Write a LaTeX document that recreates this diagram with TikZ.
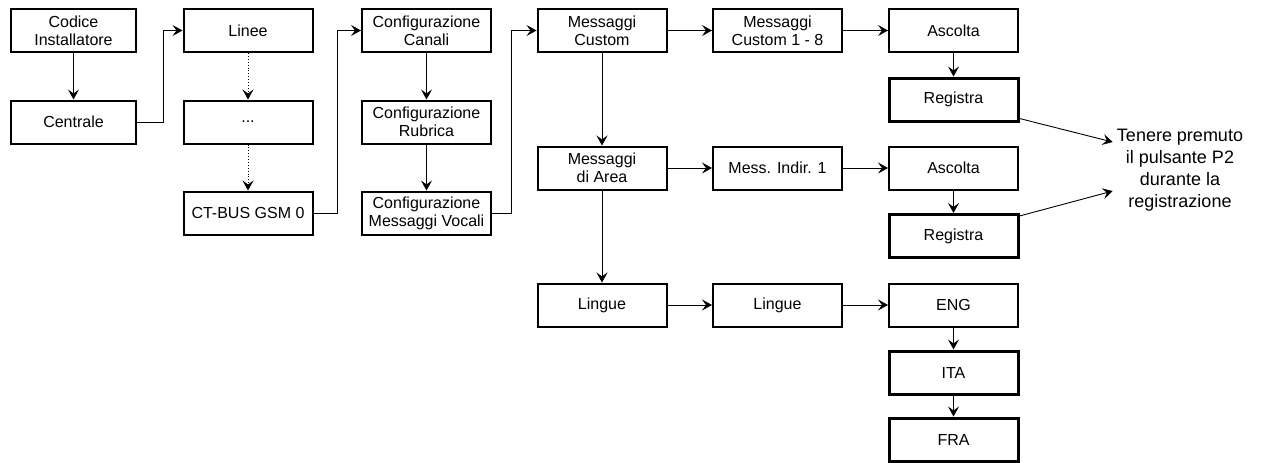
\documentclass[tikz,border=0pt]{standalone}
\usepackage{fontspec}
\setmainfont{Liberation Sans}
\usetikzlibrary{arrows.meta}
\def\boxwd{129pt}

\begin{document}
\begin{tikzpicture}[x=1pt,y=-1pt,line width=0.9pt,>={Stealth[length=10pt,width=11pt,inset=4pt]}]
    \tikzstyle{menu}=[draw,line width=2pt,minimum width=\boxwd,minimum height=43pt,inner sep=0pt,align=center,font=\fontsize{16}{18}\selectfont]
    \tikzstyle{menu thick}=[menu,line width=3pt]
    \tikzstyle{annot}=[align=center,inner sep=0pt,font=\fontsize{18}{22}\selectfont]

    \useasboundingbox (0,0) rectangle (1261,463);

    % Draw the first two columns
    \node[menu,minimum width=125pt] (cod) at (73.5,30.5) {Codice\\Installatore};
    \node[menu,minimum width=125pt] (cen) at (73.5,122) {Centrale};
    \node[menu] (lin) at (248,30.5) {Linee};
    \node[menu] (dots) at (248,122) {...};
    \node[menu] (ctb) at (248,213) {CT-BUS GSM 0};

    % Draw the configuration column
    \node[menu] (cfc) at (426.5,30.5) {Configurazione\\Canali};
    \node[menu] (cfr) at (426.5,122) {Configurazione\\Rubrica};
    \node[menu] (cfm) at (426.5,213) {Configurazione\\Messaggi Vocali};

    % Draw the message columns
    \node[menu] (mcu) at (602,30.5) {Messaggi\\Custom};
    \node[menu] (mar) at (602,168) {Messaggi\\di Area};
    \node[menu] (lng) at (602,305) {Lingue};
    \node[menu] (mc8) at (777.5,30.5) {Messaggi\\Custom 1 - 8};
    \node[menu] (mid) at (777.5,168) {Mess. Indir. 1};
    \node[menu] (lng2) at (777.5,305) {Lingue};

    % Draw the last column
    \node[menu] (asc1) at (953.5,30.5) {Ascolta};
    \node[menu thick] (reg1) at (953.5,99.5) {Registra};
    \node[menu] (asc2) at (953.5,168) {Ascolta};
    \node[menu thick] (reg2) at (953.5,236) {Registra};
    \node[menu] (eng) at (953.5,305) {ENG};
    \node[menu thick] (ita) at (953.5,372.5) {ITA};
    \node[menu thick] (fra) at (953.5,439.5) {FRA};

    \node[annot] (hint) at (1180,170) {Tenere premuto\\il pulsante P2\\durante la\\registrazione};

    % Straight connections
    \foreach \source/\dest in {cod/cen,cfc/cfr,cfr/cfm,mcu/mar,mar/lng,asc1/reg1,asc2/reg2,eng/ita,ita/fra,
                               mcu/mc8,mc8/asc1,mar/mid,mid/asc2,lng/lng2,lng2/eng}
        \draw[->] (\source) -- (\dest);

    \foreach \source/\dest in {lin/dots,dots/ctb}
        \draw[->,dotted] (\source) -- (\dest);

    % Elbow connections to the next column
    \draw[->] (cen.east) -- ++(26,0) |- (lin.west);
    \draw[->] (ctb.east) -- ++(24,0) |- (cfc.west);
    \draw[->] (cfm.east) -- ++(19,0) |- (mcu.west);

    \draw[->,shorten >=4pt] ([yshift=4pt]reg1.south east) -- ([yshift=27pt]hint.west);
    \draw[->,shorten >=4pt] ([yshift=-3pt]reg2.north east) -- ([yshift=-20pt]hint.west);

\end{tikzpicture}
\end{document}
